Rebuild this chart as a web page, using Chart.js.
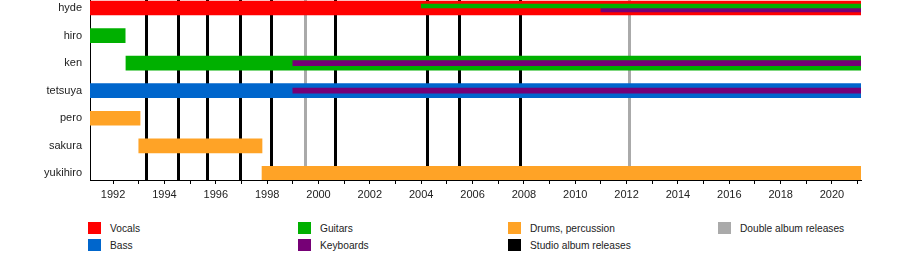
<!DOCTYPE html>
<html>
<head>
<meta charset="utf-8">
<script src="https://cdn.jsdelivr.net/npm/chart.js@4/dist/chart.umd.min.js"></script>
<style>
  html, body { margin: 0; padding: 0; background: #fff; }
  #wrap { position: relative; width: 900px; height: 260px; font-family: "Liberation Sans", Arial, sans-serif; }
  #box { position: absolute; left: 0; top: 0; width: 900px; height: 205px; }
  .lg { position: absolute; font-size: 10.2px; color: #222; height: 12px; line-height: 12px; white-space: nowrap; }
  .lg span { position: absolute; left: 0; top: 0; width: 13px; height: 12px; }
  .lg b { position: absolute; left: 22px; top: 1px; font-weight: normal; }
</style>
</head>
<body>
<div id="wrap">
  <div id="box"><canvas id="myChart"></canvas></div>
</div>
<script>
// members, top to bottom
var members = ['hyde', 'hiro', 'ken', 'tetsuya', 'pero', 'sakura', 'yukihiro'];
var axisStart = 1991.1, axisEnd = 2021.13;

// periods: [member index, from, to]
var vocals    = [[0, 1991.1, 2021.13]];
var guitars   = [[1, 1991.1, 1992.47], [2, 1992.5, 2021.13]];
var bass      = [[3, 1991.1, 2021.13]];
var drums     = [[4, 1991.1, 1993.05], [5, 1993.0, 1997.8], [6, 1997.8, 2021.13]];
// secondary instruments (thin stripes)
var guitarsThin   = [[0, 2004.0, 2021.13]];
var keyboardsThin = [[0, 2011.0, 2021.13], [2, 1999.0, 2021.13], [3, 1999.0, 2021.13]];

// album releases
var studioAlbums = [1993.29, 1994.54, 1995.67, 1996.95, 1998.15, 2000.64, 2004.24, 2005.47, 2007.85];
var doubleAlbums = [1999.48, 2012.09];

var colors = {
    vocals: '#ff0000',
    guitars: '#00b000',
    bass: '#0066cc',
    keyboards: '#760076',
    drums: '#ffa326',
    studio: '#000000',
    double: '#aaaaaa'
};

var legendItems = [
    ['Vocals', colors.vocals], ['Bass', colors.bass],
    ['Guitars', colors.guitars], ['Keyboards', colors.keyboards],
    ['Drums, percussion', colors.drums], ['Studio album releases', colors.studio],
    ['Double album releases', colors.double]
];

function toPoints(list, shift) {
    return list.map(function (p) {
        return { x: [p[1], p[2]], y: p[0] + (shift || 0) };
    });
}

// album release lines, drawn behind the bars
var releaseLines = {
    id: 'releaseLines',
    beforeDatasetsDraw: function (chart) {
        var ctx = chart.ctx, area = chart.chartArea, xs = chart.scales.x;
        function draw(list, color) {
            ctx.save();
            ctx.strokeStyle = color;
            ctx.lineWidth = 3;
            list.forEach(function (v) {
                var px = Math.round(xs.getPixelForValue(v)) + 0.5;
                ctx.beginPath();
                ctx.moveTo(px, area.top);
                ctx.lineTo(px, area.bottom);
                ctx.stroke();
            });
            ctx.restore();
        }
        draw(doubleAlbums, colors.double);
        draw(studioAlbums, colors.studio);
    }
};

var rowPx = 27.6;
var stripeShift = 2 / rowPx;

Chart.defaults.font.family = '"Liberation Sans", Arial, sans-serif';
Chart.defaults.font.size = 11;
Chart.defaults.color = '#222';

var chartBlock = document.getElementById('myChart');
var myChart = new Chart(chartBlock, {
    type: 'bar',
    data: {
        datasets: [
            { label: 'Guitars (2nd)', data: toPoints(guitarsThin, -stripeShift), backgroundColor: colors.guitars, barThickness: 4, order: 0 },
            { label: 'Keyboards hyde', data: toPoints(keyboardsThin.slice(0, 1), stripeShift), backgroundColor: colors.keyboards, barThickness: 4, order: 0 },
            { label: 'Keyboards', data: toPoints(keyboardsThin.slice(1)), backgroundColor: colors.keyboards, barThickness: 5, order: 0 },
            { label: 'Vocals', data: toPoints(vocals), backgroundColor: colors.vocals, barThickness: 14, order: 1 },
            { label: 'Guitars', data: toPoints(guitars), backgroundColor: colors.guitars, barThickness: 14, order: 1 },
            { label: 'Bass', data: toPoints(bass), backgroundColor: colors.bass, barThickness: 14, order: 1 },
            { label: 'Drums, percussion', data: toPoints(drums), backgroundColor: colors.drums, barThickness: 14, order: 1 }
        ]
    },
    options: {
        indexAxis: 'y',
        responsive: true,
        maintainAspectRatio: false,
        animation: false,
        layout: { padding: { top: 0, right: 39, bottom: 0, left: 0 } },
        datasets: { bar: { grouped: false, borderWidth: 0 } },
        plugins: {
            legend: { display: false },
            tooltip: { enabled: false }
        },
        scales: {
            x: {
                type: 'linear',
                min: axisStart,
                max: axisEnd,
                offset: false,
                grid: { display: true, drawOnChartArea: false, drawTicks: true, tickLength: 4, color: '#000' },
                border: { display: true, color: '#000', width: 1 },
                ticks: {
                    stepSize: 1,
                    autoSkip: false,
                    includeBounds: false,
                    maxRotation: 0,
                    padding: 4,
                    callback: function (v) { return v % 2 === 0 ? String(v) : ''; }
                },
                afterFit: function (s) { s.height = 25; }
            },
            y: {
                type: 'linear',
                reverse: true,
                offset: false,
                min: -0.29,
                max: 6.24,
                grid: { display: false, drawTicks: false },
                border: { display: true, color: '#000', width: 1 },
                afterBuildTicks: function (s) {
                    s.ticks = members.map(function (m, i) { return { value: i }; });
                },
                ticks: {
                    padding: 8,
                    autoSkip: false,
                    callback: function (v) { return members[v]; }
                },
                afterFit: function (s) {
                    s.width = 90;
                    s.paddingTop = 0;
                    s.paddingBottom = 0;
                }
            }
        }
    },
    plugins: [releaseLines]
});

// legend under the chart
var wrap = document.getElementById('wrap');
legendItems.forEach(function (item, i) {
    var col = Math.floor(i / 2), row = i % 2;
    var el = document.createElement('div');
    el.className = 'lg';
    el.style.left = (88 + col * 210) + 'px';
    el.style.top = (222 + row * 17) + 'px';
    el.innerHTML = '<span style="background:' + item[1] + '"></span><b>' + item[0] + '</b>';
    wrap.appendChild(el);
});
</script>
</body>
</html>
